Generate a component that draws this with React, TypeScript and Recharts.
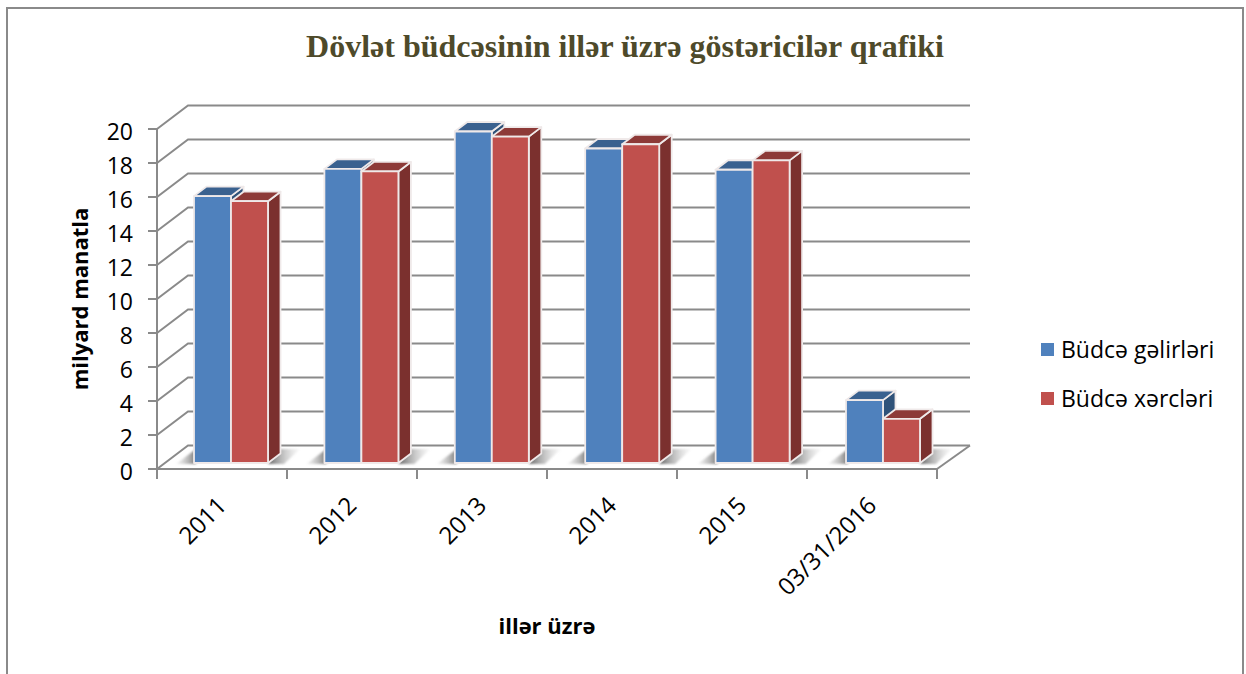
import React from "react";
import { BarChart, Bar, XAxis, YAxis, CartesianGrid, Legend } from "recharts";

const categories = ["2011", "2012", "2013", "2014", "2015", "03/31/2016"];
const revenue = [15.7, 17.3, 19.5, 18.5, 17.25, 3.7];
const expenses = [15.4, 17.15, 19.2, 18.75, 17.8, 2.6];
const yTicks = [0, 2, 4, 6, 8, 10, 12, 14, 16, 18, 20];

const data = categories.map((c, i) => ({ year: c, revenue: revenue[i], expenses: expenses[i] }));

const SANS = "'Open Sans', sans-serif";
const GRID = "#8a8a8a";
const BAND = 130;

const faces: Record<string, { top: string; side: string }> = {
  "#4F81BD": { top: "#3A618F", side: "#2F5279" },
  "#C0504D": { top: "#8D3A38", side: "#7B302E" },
};

function GridLine(props: any) {
  const { x1, x2, y1 } = props;
  const isFloor = Math.abs(y1 - 469) < 1;
  return (
    <g>
      <polyline
        points={`${x1},${y1} ${x1 + 31},${y1 - 23.5} ${x2 + 33},${y1 - 23.5}`}
        fill="none"
        stroke={GRID}
        strokeWidth={2}
      />
      {isFloor && <line x1={x2} y1={y1} x2={x2 + 33} y2={y1 - 23.5} stroke={GRID} strokeWidth={2} />}
    </g>
  );
}

function Bar3D(props: any) {
  const { x, y, width, height, fill, index, role } = props;
  const f = faces[fill];
  const fx = x + 9 + index * 0.4;
  const fy = y - 6;
  const b = fy + height;
  const dx = 12.5;
  const dy = 9.5;
  const edge = { stroke: "#efe9e9", strokeWidth: 1.8, strokeLinejoin: "round" as const };
  return (
    <g>
      {role === "left" && (
        <polygon
          points={`${fx - 18},${b + 1} ${fx + 2},${b + 1} ${fx + 2},${b - 14}`}
          fill="url(#shadowLeft)"
          filter="url(#soft)"
        />
      )}
      {role === "right" && (
        <polygon
          points={`${fx + width},${b + 1} ${fx + width + 10},${b - 14} ${fx + width + 32},${b - 14} ${fx + width + 16},${b + 1}`}
          fill="url(#shadowRight)"
          filter="url(#soft)"
        />
      )}
      <polygon
        points={`${fx + width},${fy} ${fx + width + dx},${fy - dy} ${fx + width + dx},${b - dy} ${fx + width},${b}`}
        fill={f.side}
        {...edge}
      />
      <polygon
        points={`${fx},${fy} ${fx + dx},${fy - dy} ${fx + width + dx},${fy - dy} ${fx + width},${fy}`}
        fill={f.top}
        {...edge}
      />
      <rect x={fx} y={fy} width={width} height={height} fill={fill} {...edge} />
    </g>
  );
}

function XTick(props: any) {
  const { x, y, payload, index } = props;
  const tx = x + 6;
  const ty = y + 38;
  return (
    <g>
      <line x1={x - BAND / 2} y1={y} x2={x - BAND / 2} y2={y + 10} stroke={GRID} strokeWidth={2} />
      {index === categories.length - 1 && (
        <line x1={x + BAND / 2} y1={y} x2={x + BAND / 2} y2={y + 10} stroke={GRID} strokeWidth={2} />
      )}
      <text
        x={tx}
        y={ty}
        textAnchor="end"
        fontFamily={SANS}
        fontSize={24}
        fill="#000"
        transform={`rotate(-45 ${tx} ${ty})`}
      >
        {payload.value}
      </text>
    </g>
  );
}

function LegendBox(props: any) {
  const rows = props.payload || [];
  return (
    <div style={{ position: "relative", height: 0 }}>
      {rows.map((r: any, i: number) => (
        <div key={r.value} style={{ position: "absolute", left: 0, top: 4 + i * 49, whiteSpace: "nowrap", height: 30 }}>
          <span
            style={{
              position: "absolute",
              left: 0,
              top: 5,
              width: 13,
              height: 13,
              background: r.color,
            }}
          />
          <span
            style={{
              position: "absolute",
              left: 20,
              top: -4,
              fontFamily: SANS,
              fontSize: 23,
              color: "#000",
              lineHeight: "30px",
            }}
          >
            {r.value}
          </span>
        </div>
      ))}
    </div>
  );
}

export default function App() {
  return (
    <div style={{ position: "absolute", left: 0, top: 0, width: 1246, height: 674, background: "#fff", overflow: "hidden" }}>
      <div
        style={{
          position: "absolute",
          left: 6,
          top: 7,
          width: 1234,
          height: 667,
          borderTop: `2px solid ${GRID}`,
          borderLeft: `2px solid ${GRID}`,
          borderRight: `2px solid ${GRID}`,
        }}
      />
      <BarChart
        width={1246}
        height={674}
        data={data}
        barGap={0}
        barSize={37}
        margin={{ top: 129, right: 309, bottom: 0, left: 67 }}
        style={{ position: "absolute", left: 0, top: 0 }}
      >
        <defs>
          <linearGradient id="shadowLeft" x1="0" y1="0" x2="1" y2="0">
            <stop offset="0" stopColor="#c8c8c8" stopOpacity={0.2} />
            <stop offset="1" stopColor="#777" stopOpacity={1} />
          </linearGradient>
          <linearGradient id="shadowRight" x1="0" y1="0" x2="1" y2="0">
            <stop offset="0" stopColor="#666" stopOpacity={1} />
            <stop offset="1" stopColor="#c8c8c8" stopOpacity={0.1} />
          </linearGradient>
          <filter id="soft" x="-30%" y="-30%" width="160%" height="160%">
            <feGaussianBlur stdDeviation={1.2} />
          </filter>
        </defs>
        <text
          x={625}
          y={57}
          textAnchor="middle"
          fontFamily="'Liberation Serif', serif"
          fontWeight="bold"
          fontSize={32}
          fill="#4E4A2A"
        >
          Dövlət büdcəsinin illər üzrə göstəricilər qrafiki
        </text>
        <CartesianGrid vertical={false} horizontal={(p: any) => <GridLine key={p.key} {...p} />} />
        <XAxis
          dataKey="year"
          height={205}
          interval={0}
          tickSize={0}
          tickMargin={0}
          tickLine={false}
          axisLine={{ stroke: GRID, strokeWidth: 2 }}
          tick={(p: any) => <XTick {...p} />}
          label={{
            value: "illər üzrə",
            position: "insideBottom",
            offset: 40,
            fontFamily: SANS,
            fontWeight: "bold",
            fontSize: 22,
            fill: "#000",
          }}
        />
        <YAxis
          domain={[0, 20]}
          ticks={yTicks}
          interval={0}
          width={90}
          tickSize={9}
          tickMargin={15}
          tickLine={{ stroke: GRID, strokeWidth: 2 }}
          axisLine={{ stroke: GRID, strokeWidth: 2 }}
          tick={{ fontFamily: SANS, fontSize: 23, fill: "#000", dy: 3 }}
          label={{
            value: "milyard manatla",
            angle: -90,
            position: "insideLeft",
            offset: 13,
            dy: 0,
            style: { textAnchor: "middle" },
            fontFamily: SANS,
            fontWeight: "bold",
            fontSize: 22,
            fill: "#000",
          }}
        />
        <Legend
          verticalAlign="bottom"
          layout="horizontal"
          wrapperStyle={{ left: 1041, top: 334, width: 200, height: 0, bottom: "auto" }}
          content={(p: any) => <LegendBox {...p} />}
        />
        <Bar
          dataKey="revenue"
          name="Büdcə gəlirləri"
          fill="#4F81BD"
          isAnimationActive={false}
          shape={(p: any) => <Bar3D {...p} role="left" />}
        />
        <Bar
          dataKey="expenses"
          name="Büdcə xərcləri"
          fill="#C0504D"
          isAnimationActive={false}
          shape={(p: any) => <Bar3D {...p} role="right" />}
        />
      </BarChart>
    </div>
  );
}
